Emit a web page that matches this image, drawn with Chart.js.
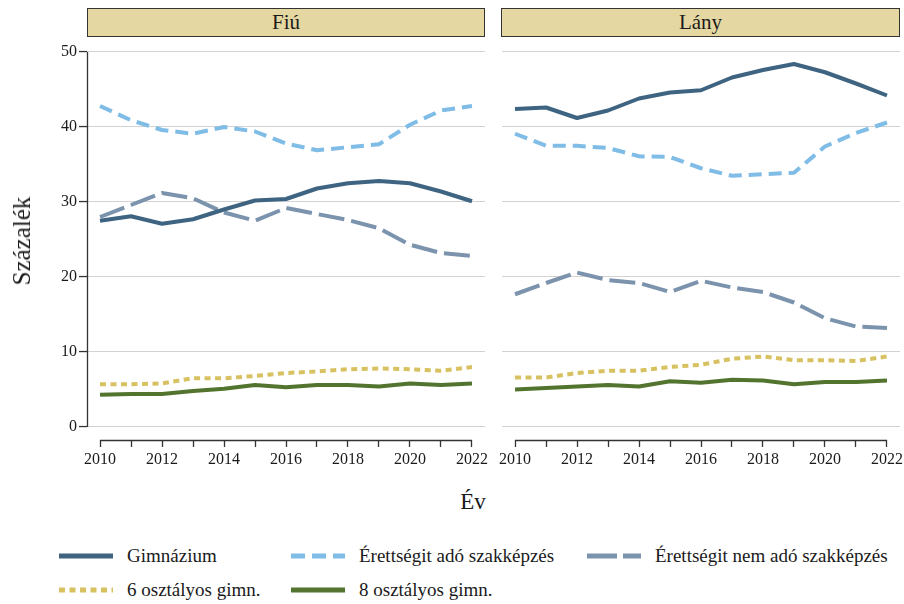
<!DOCTYPE html>
<html>
<head>
<meta charset="utf-8">
<script src="https://cdn.jsdelivr.net/npm/chart.js@4"></script>
<style>
  body { margin: 0; background: #fff; color: #1a1a1a; font-family: 'Liberation Serif'; }
  #page { position: relative; width: 904px; height: 604px; overflow: hidden; }
  .strip { position: absolute; top: 8px; height: 27px; background: #e5d7a1; border: 1px solid #333;
           text-align: center; font-size: 21px; line-height: 27px; }
  .wrap { position: absolute; top: 40px; height: 440px; }
  .ytitle { position: absolute; left: 22px; top: 241px; font-size: 25px; transform: translate(-50%, -50%) rotate(-90deg); white-space: nowrap; }
  .xtitle { position: absolute; left: 473px; top: 502px; font-size: 23px; transform: translate(-50%, -50%); }
  .leg { position: absolute; font-size: 19px; white-space: nowrap; transform: translateY(-50%); }
  .leg svg { position: absolute; top: 50%; margin-top: -4px; }
</style>
</head>
<body>
<div id="page">
  <div class="strip" style="left:87px;width:396px;">Fiú</div>
  <div class="strip" style="left:501px;width:397px;">Lány</div>
  <div class="wrap" style="left:0;width:490px;"><canvas id="fiu"></canvas></div>
  <div class="wrap" style="left:495px;width:409px;"><canvas id="lany"></canvas></div>
  <div class="ytitle">Százalék</div>
  <div class="xtitle">Év</div>
  <div id="legend"></div>
</div>
<script>
const years = [2010, 2011, 2012, 2013, 2014, 2015, 2016, 2017, 2018, 2019, 2020, 2021, 2022];
const yTicks = [0, 10, 20, 30, 40, 50];
const seriesNames = ['Gimnázium', 'Érettségit adó szakképzés', 'Érettségit nem adó szakképzés', '6 osztályos gimn.', '8 osztályos gimn.'];

// Fiú
const fiuGimn   = [27.5, 28.1, 27.1, 27.7, 29.0, 30.2, 30.4, 31.8, 32.5, 32.8, 32.5, 31.4, 30.1];
const fiuErAdo  = [42.8, 40.9, 39.6, 39.1, 40.0, 39.4, 37.8, 36.9, 37.3, 37.7, 40.3, 42.2, 42.8];
const fiuErNem  = [28.0, 29.6, 31.2, 30.5, 28.6, 27.5, 29.2, 28.4, 27.6, 26.5, 24.3, 23.2, 22.8];
const fiuHat    = [5.7, 5.7, 5.8, 6.5, 6.5, 6.8, 7.2, 7.4, 7.7, 7.8, 7.7, 7.5, 8.0];
const fiuNyolc  = [4.3, 4.4, 4.4, 4.8, 5.1, 5.6, 5.3, 5.6, 5.6, 5.4, 5.8, 5.6, 5.8];

// Lány
const lanyGimn  = [42.4, 42.6, 41.2, 42.2, 43.8, 44.6, 44.9, 46.6, 47.6, 48.4, 47.3, 45.8, 44.2];
const lanyErAdo = [39.1, 37.5, 37.5, 37.2, 36.1, 36.0, 34.5, 33.5, 33.7, 33.9, 37.4, 39.2, 40.6];
const lanyErNem = [17.7, 19.2, 20.6, 19.6, 19.2, 18.0, 19.5, 18.6, 18.0, 16.6, 14.5, 13.4, 13.2];
const lanyHat   = [6.6, 6.6, 7.2, 7.5, 7.5, 8.0, 8.3, 9.1, 9.4, 8.9, 8.9, 8.8, 9.4];
const lanyNyolc = [5.0, 5.2, 5.4, 5.6, 5.4, 6.1, 5.9, 6.3, 6.2, 5.7, 6.0, 6.0, 6.2];

const colors = ['#3e6481', '#7fbce6', '#7b93ad', '#d8c160', '#53742f'];
const dashes = [[], [13, 7], [26, 7], [6, 4.5], []];
const legendDashes = [[], [14, 7], [30, 6], [6, 4.5], []];

Chart.defaults.font.family = '"Liberation Serif"';
const font = { family: '"Liberation Serif"', size: 16 };

// axis lines capped at the data/tick range
const cappedAxes = {
  id: 'cappedAxes',
  afterDraw(chart, args, opts) {
    const { ctx, chartArea, scales } = chart;
    ctx.save();
    ctx.strokeStyle = '#333';
    ctx.lineWidth = 1.3;
    ctx.beginPath();
    const yb = chartArea.bottom + 0.5;
    ctx.moveTo(scales.x.getPixelForValue(years[0]), yb);
    ctx.lineTo(scales.x.getPixelForValue(years[years.length - 1]), yb);
    if (opts.showY) {
      const xl = chartArea.left + 0.5;
      ctx.moveTo(xl, scales.y.getPixelForValue(yTicks[0]));
      ctx.lineTo(xl, scales.y.getPixelForValue(yTicks[yTicks.length - 1]));
    }
    ctx.stroke();
    ctx.restore();
  }
};

function makePanel(id, data, showY, padRight) {
  const datasets = data.map((vals, i) => ({
    label: seriesNames[i],
    data: years.map((yr, j) => ({ x: yr, y: vals[j] })),
    borderColor: colors[i],
    borderWidth: 4,
    borderDash: dashes[i],
    borderCapStyle: 'butt',
    borderJoinStyle: 'round',
    pointRadius: 0,
    tension: 0,
    fill: false
  }));
  return new Chart(document.getElementById(id), {
    type: 'line',
    data: { datasets },
    plugins: [cappedAxes],
    options: {
      responsive: true,
      maintainAspectRatio: false,
      animation: false,
      layout: { padding: { top: 5, right: padRight, left: 0, bottom: 0 } },
      plugins: { legend: { display: false }, tooltip: { enabled: false }, cappedAxes: { showY } },
      scales: {
        x: {
          type: 'linear',
          min: 2009.58,
          max: 2022.42,
          border: { display: false },
          grid: { drawOnChartArea: false, drawTicks: true, tickLength: 7, tickColor: '#333', tickWidth: 1.3 },
          ticks: {
            stepSize: 1, includeBounds: false, autoSkip: false, maxRotation: 0, padding: 3,
            color: '#1a1a1a', font,
            callback: v => (v % 2 === 0 ? String(v) : '')
          },
          afterFit: s => { s.height = 40; s.paddingLeft = 0; s.paddingRight = 0; }
        },
        y: {
          min: -1.733,
          max: 50.933,
          border: { display: false },
          grid: { color: '#d2d2d2', lineWidth: 1.1, drawTicks: showY, tickLength: showY ? 8 : 0, tickColor: '#333', tickWidth: 1.3 },
          ticks: {
            display: showY, stepSize: 10, includeBounds: false, padding: 2,
            color: '#1a1a1a', font
          },
          afterFit: s => { s.width = showY ? 87 : 7; s.paddingTop = 0; s.paddingBottom = 0; }
        }
      }
    }
  });
}

makePanel('fiu', [fiuGimn, fiuErAdo, fiuErNem, fiuHat, fiuNyolc], true, 5);
makePanel('lany', [lanyGimn, lanyErAdo, lanyErNem, lanyHat, lanyNyolc], false, 4);

// legend
const legPos = [[59, 556], [291, 556], [587, 556], [59, 590], [291, 590]];
const legend = document.getElementById('legend');
seriesNames.forEach((name, i) => {
  const [x, y] = legPos[i];
  const d = document.createElement('div');
  d.className = 'leg';
  d.style.left = x + 'px';
  d.style.top = y + 'px';
  d.style.paddingLeft = '68px';
  const dash = legendDashes[i].length ? `stroke-dasharray="${legendDashes[i].join(' ')}"` : '';
  d.innerHTML = `<svg width="54" height="8" style="left:0"><line x1="0" y1="4" x2="54" y2="4" stroke="${colors[i]}" stroke-width="5" ${dash}/></svg>${name}`;
  legend.appendChild(d);
});
</script>
</body>
</html>
